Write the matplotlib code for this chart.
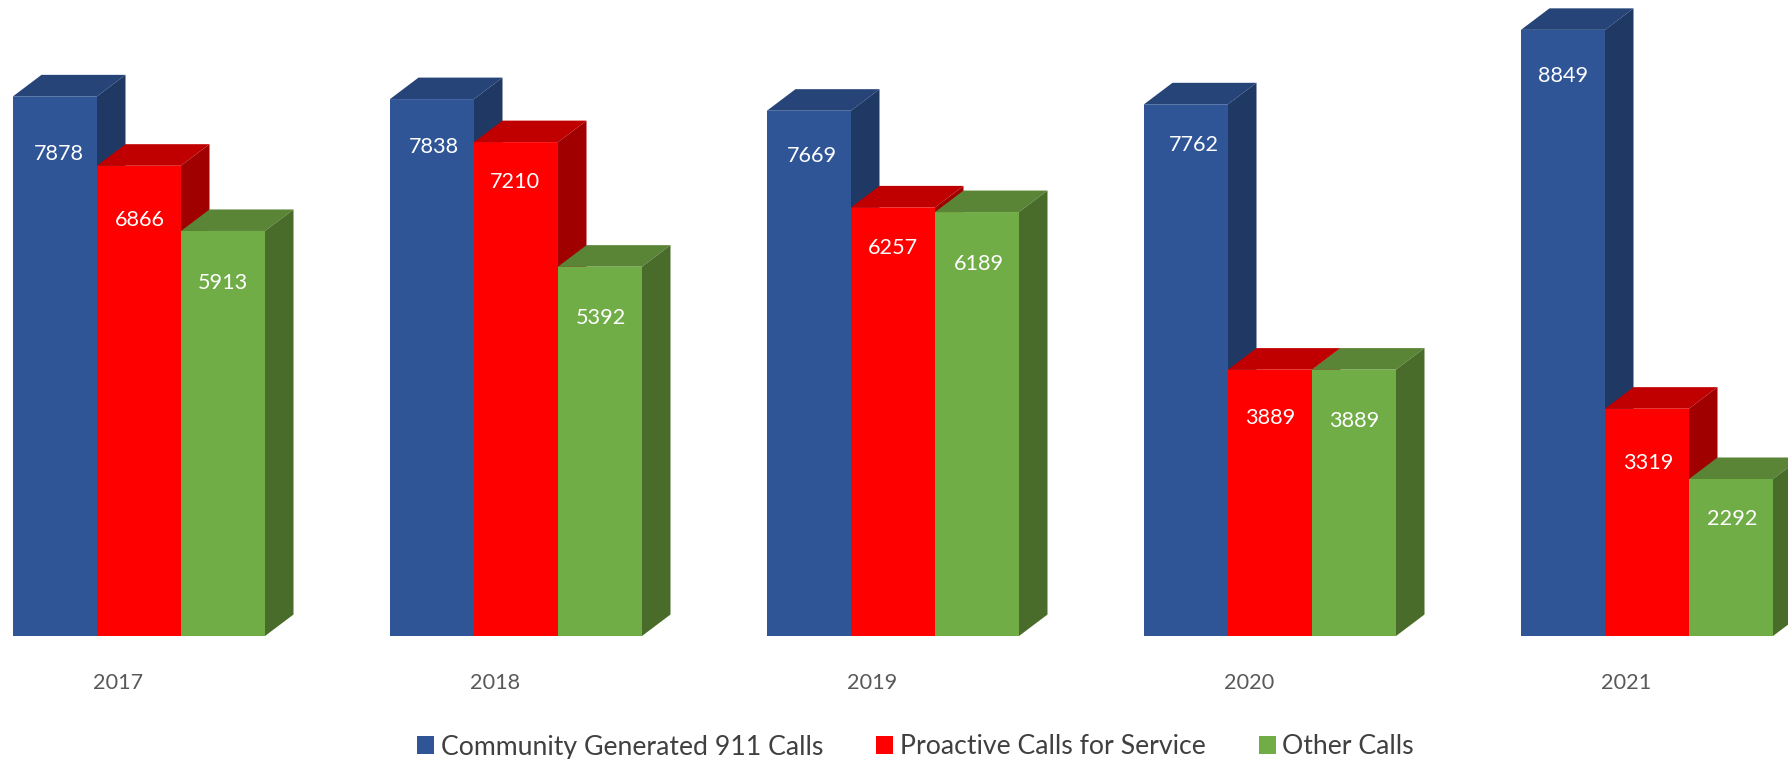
import matplotlib
matplotlib.use("Agg")
import matplotlib.pyplot as plt
from matplotlib.patches import Patch, Polygon

plt.rcParams['font.family'] = ['Lato', 'DejaVu Sans']

years = ['2017', '2018', '2019', '2020', '2021']
community = [7878, 7838, 7669, 7762, 8849]
proactive = [6866, 7210, 6257, 3889, 3319]
other = [5913, 5392, 6189, 3889, 2292]

names = ['Community Generated 911 Calls', 'Proactive Calls for Service', 'Other Calls']
front_colors = ['#2F5597', '#FF0000', '#70AD47']
top_colors = ['#264478', '#C00000', '#5A8436']
side_colors = ['#1F3864', '#A00000', '#4A6C2A']

# how far each label sits below its bar top, pixels
label_drop = [[58, 48, 45, 41, 46],
              [54, 40, 41, 48, 54],
              [52, 51, 52, 51, 40]]
label_shift = [[4, 2, 3, 8, 0],
               [1, -1, 0, 0, 1],
               [0, 1, 2, 0, 1]]

W, H = 1788, 759
BASE_PX = 636      # baseline, from the top
PX_PER_CALL = 0.0685
GROUP_PX = 377.0
BAR_PX = 84.0
FIRST_CENTER_PX = 139.0
DEPTH_X = 28.5 / GROUP_PX
DEPTH_Y = 21.5 / PX_PER_CALL
BAR_W = BAR_PX / GROUP_PX


def draw_bar(ax, x, value, i, z):
    left = x - BAR_W / 2
    right = x + BAR_W / 2
    ax.bar(x, value, BAR_W, color=front_colors[i], zorder=z + 0.2, linewidth=0, snap=False)
    top = Polygon([(left, value), (right, value), (right + DEPTH_X, value + DEPTH_Y),
                   (left + DEPTH_X, value + DEPTH_Y)], closed=True,
                  facecolor=top_colors[i], edgecolor='none', zorder=z, snap=False)
    side = Polygon([(right, 0), (right, value), (right + DEPTH_X, value + DEPTH_Y),
                    (right + DEPTH_X, DEPTH_Y)], closed=True,
                   facecolor=side_colors[i], edgecolor='none', zorder=z + 0.1, snap=False)
    ax.add_patch(top)
    ax.add_patch(side)


def main():
    fig = plt.figure(figsize=(W / 100, H / 100), dpi=100)
    ax = fig.add_axes([0, 0, 1, 1])
    ax.set_xlim(-FIRST_CENTER_PX / GROUP_PX, (W - FIRST_CENTER_PX) / GROUP_PX)
    ax.set_ylim(-(H - BASE_PX) / PX_PER_CALL, BASE_PX / PX_PER_CALL)
    ax.axis('off')

    series = [community, proactive, other]
    for g in range(len(years)):
        for i in range(3):
            x = g + (i - 1) * BAR_W
            draw_bar(ax, x, series[i][g], i, 2 + g * 3 + i)
            ax.annotate(str(series[i][g]), (x, series[i][g]),
                        xytext=(label_shift[i][g], -label_drop[i][g]),
                        textcoords='offset pixels', ha='center', va='center',
                        color='white', fontsize=15.6, zorder=30)
        ax.annotate(years[g], (g, 0), xytext=(-21, -47), textcoords='offset pixels',
                    ha='center', va='center', color='#595959', fontsize=15.6)

    handles = [Patch(facecolor=c, edgecolor='none') for c in front_colors]
    fig.legend(handles, names, loc='center', bbox_to_anchor=(915.5 / W, 1 - 747 / H), ncol=3,
               frameon=False, fontsize=19.2, handlelength=0.63, handleheight=0.63, handletextpad=0.25,
               columnspacing=2.0, labelcolor='#404040', borderpad=0)

    fig.savefig('out.png', dpi=100)


if __name__ == '__main__':
    main()
